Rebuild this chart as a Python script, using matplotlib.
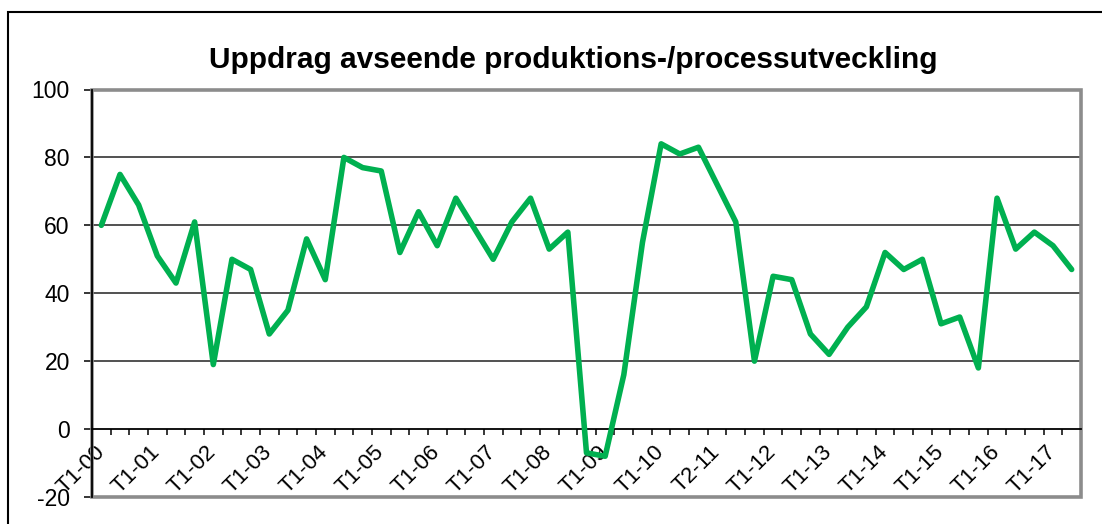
import matplotlib
matplotlib.use("Agg")
import matplotlib.pyplot as plt
from matplotlib.patches import Rectangle

plt.rcParams['font.family'] = ['Liberation Sans', 'DejaVu Sans']

# Tertialsdata T1-00 .. T2-17 (53 värden)
values = [60, 75, 66, 51, 43, 61, 19, 50, 47, 28, 35, 56, 44, 80, 77, 76, 52, 64,
          54, 68, 59, 50, 61, 68, 53, 58, -7, -8, 16, 55, 84, 81, 83, 72, 61, 20,
          45, 44, 28, 22, 30, 36, 52, 47, 50, 31, 33, 18, 68, 53, 58, 54, 47]
# Etiketter som visas (var tredje kategori)
tick_labels = ["T1-00", "T1-01", "T1-02", "T1-03", "T1-04", "T1-05", "T1-06",
               "T1-07", "T1-08", "T1-09", "T1-10", "T2-11", "T1-12", "T1-13",
               "T1-14", "T1-15", "T1-16", "T1-17"]
yticks = [-20, 0, 20, 40, 60, 80, 100]
title = "Uppdrag avseende produktions-/processutveckling"

n = len(values)
x = list(range(n))

fig = plt.figure(figsize=(11.02, 5.24), dpi=100)
ax = fig.add_axes([92 / 1102, 1 - 497 / 524, 989 / 1102, 407.5 / 524])

# yttre ram (beskuren till höger/nedtill)
fig.add_artist(Rectangle((7.5 / 1102, -0.2), 1.2, 1.2 - 11.5 / 524,
                         transform=fig.transFigure, fill=False,
                         edgecolor="black", lw=1.5))

ax.set_xlim(-0.5, n - 0.5)
ax.set_ylim(-20, 100)

for g in [20, 40, 60, 80]:
    ax.axhline(g, color="#222222", lw=1.1, zorder=1)

ax.plot(x, values, color="#00B050", lw=4, solid_joinstyle="round",
        solid_capstyle="round", zorder=3)

# ram runt diagramytan
for s in ["top", "right"]:
    ax.spines[s].set_visible(False)
ax.add_patch(Rectangle((0, 0), 1, 1, transform=ax.transAxes, fill=False,
                       edgecolor="#8c8c8c", lw=2.6, clip_on=False, zorder=2))
ax.spines["left"].set_color("black")
ax.spines["left"].set_linewidth(1.3)
ax.spines["left"].set_zorder(4)
ax.spines["bottom"].set_position(("data", 0))
ax.spines["bottom"].set_color("black")
ax.spines["bottom"].set_linewidth(1.3)

ax.set_yticks(yticks)
ax.set_yticklabels([str(v) for v in yticks])
ax.tick_params(axis="y", length=6, width=1.1, pad=10, labelsize=16.5, direction="out")

ax.set_xticks(x[::3])
ax.set_xticklabels(tick_labels, rotation=45, ha="right", va="center",
                   rotation_mode="anchor")
ax.set_xticks([i - 0.5 for i in range(n + 1)], minor=True)
ax.tick_params(axis="x", which="major", length=0, pad=14, labelsize=16)
ax.tick_params(axis="x", which="minor", length=4.5, width=1.1, direction="out")

fig.text(573.5 / 1102, 1 - 68 / 524, title, ha="center", va="baseline",
         fontsize=21.5, fontweight="bold")

fig.savefig("out.png", dpi=100)
